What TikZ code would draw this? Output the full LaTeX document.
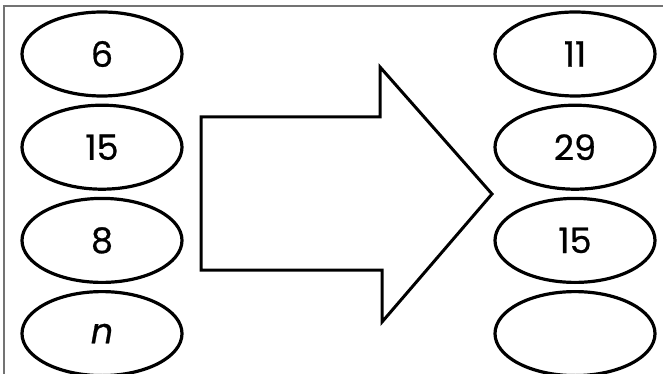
\documentclass[tikz,border=0pt]{standalone}
\usepackage{fontspec}
\setmainfont{Poppins}
\newfontfamily\numfont{Poppins}[FakeBold=0.7]
\usetikzlibrary{shapes.geometric, positioning}
\tikzset{
    oval/.style={
        ellipse,
        draw=black,
        line width=3.2pt,
        minimum width=160pt,
        minimum height=84pt,
        inner sep=0pt,
        font=\numfont\fontsize{35}{40}\selectfont
    },
    bigarrow/.style={
        draw=black,
        line width=3pt,
        line join=miter
    },
    frame/.style={
        draw=black!55,
        line width=1.4pt
    }
}

\begin{document}
\begin{tikzpicture}[x=1pt, y=-1pt, node distance=6pt]
\useasboundingbox (0,0) rectangle (663,374);

% frame
\draw [frame] (4,374) -- (4,6) -- (663,6);

% input column
\node (in1) [oval] at (102,54) {6};
\node (in2) [oval, below=of in1] {15};
\node (in3) [oval, below=of in2] {8};
\node (in4) [oval, below=of in3] {\itshape n};

% output column
\node (out1) [oval] at (575,54) {11};
\node (out2) [oval, below=of out1] {29};
\node (out3) [oval, below=of out2] {15};
\node (out4) [oval, below=of out3] {};

% big arrow
\draw [bigarrow] (201,117) -- (380,117) -- (380,67) -- (492,194)
    -- (382,322) -- (382,270) -- (201,270) -- cycle;

\end{tikzpicture}
\end{document}
